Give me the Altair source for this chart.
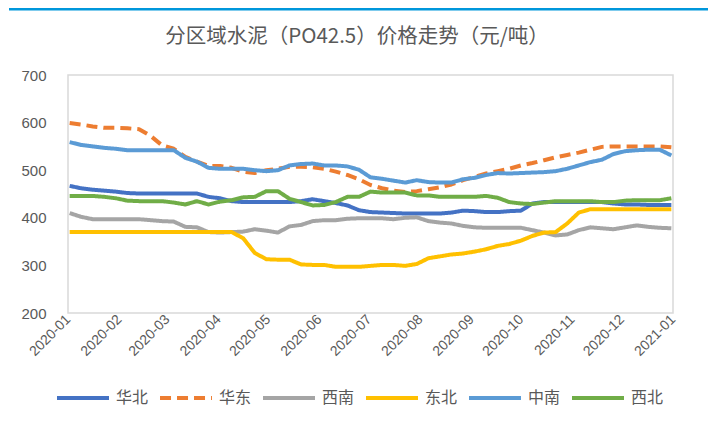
import altair as alt
import pandas as pd

series = ["华北", "华东", "西南", "东北", "中南", "西北"]
colors = ["#4472C4", "#ED7D31", "#A5A5A5", "#FFC000", "#5B9BD5", "#70AD47"]
title_text = "分区域水泥（PO42.5）价格走势（元/吨）"

dates = pd.date_range("2020-01-02", periods=53, freq="7D").strftime("%Y-%m-%dT00:00:00").tolist()

huabei = [467, 462, 459, 457, 455, 452, 451, 451, 451, 451, 451, 451, 444, 441, 435, 433,
          433, 433, 433, 433, 435, 439, 435, 431, 426, 416, 412, 411, 410, 409, 409, 409,
          409, 411, 415, 414, 412, 412, 414, 415, 430, 433, 433, 433, 433, 433, 433, 430,
          428, 428, 427, 427, 427]
huadong = [599, 596, 592, 589, 589, 588, 586, 572, 552, 545, 528, 518, 509, 509, 505, 497,
           494, 500, 503, 507, 507, 506, 503, 497, 490, 481, 469, 462, 457, 454, 456, 460,
           464, 470, 479, 486, 493, 498, 503, 510, 515, 521, 527, 532, 537, 543, 549, 550,
           550, 550, 550, 550, 548]
xinan = [410, 402, 397, 397, 397, 397, 397, 395, 393, 392, 381, 380, 370, 369, 370, 371,
         376, 373, 369, 382, 385, 393, 395, 395, 398, 399, 399, 399, 397, 400, 401, 393,
         390, 388, 383, 380, 379, 379, 379, 379, 374, 369, 363, 365, 374, 380, 378, 376,
         380, 384, 381, 379, 378]
dongbei = [370, 370, 370, 370, 370, 370, 370, 370, 370, 370, 370, 370, 370, 370, 370, 357,
           326, 313, 312, 312, 302, 301, 301, 297, 297, 297, 299, 301, 301, 299, 303, 315,
           319, 323, 325, 329, 334, 341, 345, 352, 362, 369, 370, 388, 411, 418, 418, 418,
           418, 418, 418, 418, 418]
zhongnan = [559, 553, 550, 547, 545, 542, 542, 542, 542, 542, 526, 518, 505, 503, 503, 503,
            500, 498, 500, 510, 513, 514, 510, 510, 508, 501, 485, 482, 478, 474, 479, 475,
            474, 474, 481, 484, 490, 494, 493, 494, 495, 496, 498, 503, 510, 517, 522, 534,
            540, 542, 543, 543, 531]
xibei = [446, 446, 446, 444, 441, 436, 435, 435, 435, 432, 428, 435, 428, 434, 437, 443,
         444, 456, 456, 440, 433, 426, 427, 433, 444, 444, 455, 453, 453, 453, 447, 447,
         444, 444, 444, 444, 446, 442, 433, 430, 429, 432, 435, 435, 435, 435, 433, 433,
         436, 437, 437, 437, 441]

values = [huabei, huadong, xinan, dongbei, zhongnan, xibei]
rows = []
for name, vals in zip(series, values):
    for d, v in zip(dates, vals):
        rows.append({"date": d, "price": v, "region": name})
df = pd.DataFrame(rows)

grey = "#595959"
num_font = "Liberation Sans"
cjk_font = "Noto Sans CJK SC"

legend_cfg = dict(title=None, orient="none", direction="horizontal",
                  legendX=-13, legendY=295,
                  symbolType="stroke", symbolSize=2700,
                  symbolStrokeWidth=4, labelFont=cjk_font,
                  labelFontSize=16, labelColor=grey, labelOffset=5,
                  columnPadding=3, padding=0)

lines = alt.Chart(df).mark_line(strokeWidth=4, strokeCap="butt", strokeJoin="round").encode(
    x=alt.X("date:T",
            scale=alt.Scale(domain=[alt.DateTime(year=2020, month=1, date=1),
                                    alt.DateTime(year=2021, month=1, date=1)]),
            axis=alt.Axis(title=None, format="%Y-%m", tickCount={"interval": "month", "step": 1},
                          labelAngle=315, labelAlign="right", labelBaseline="middle",
                          labelFont=num_font, labelFontSize=14, labelColor=grey,
                          labelPadding=4, ticks=False, domain=False, grid=False,
                          labelOverlap=False, labelBound=False, labelFlush=False)),
    y=alt.Y("price:Q",
            scale=alt.Scale(domain=[200, 700], nice=False, zero=False),
            axis=alt.Axis(title=None, values=[200, 300, 400, 500, 600, 700],
                          labelFont=num_font, labelFontSize=15, labelColor=grey,
                          labelPadding=22, ticks=False, domain=False, grid=False)),
    color=alt.Color("region:N", sort=series,
                    scale=alt.Scale(domain=series, range=colors),
                    legend=alt.Legend(**legend_cfg)),
    strokeDash=alt.StrokeDash("region:N", sort=series,
                              scale=alt.Scale(domain=series,
                                              range=[[1, 0], [11, 6], [1, 0], [1, 0], [1, 0], [1, 0]]),
                              legend=alt.Legend(**legend_cfg)),
)

one = pd.DataFrame({"t": [title_text]})

topline = alt.Chart(one).mark_rule(color="#0097DB", strokeWidth=3).encode(
    x=alt.value(-59), x2=alt.value(640), y=alt.value(-66)
)

title = alt.Chart(one).mark_text(font=cjk_font, fontSize=20.5, color=grey, align="center",
                                 baseline="middle").encode(
    text="t:N", x=alt.value(289), y=alt.value(-38)
)

chart = alt.layer(topline, title, lines).properties(
    width=605, height=238,
    autosize=alt.AutoSizeParams(type="none"),
    padding={"left": 60, "top": 67, "right": 37, "bottom": 107},
    background="white",
).configure_view(stroke="#D9D9D9", strokeWidth=1.5)

chart.save("out.html", embed_options={"renderer": "svg", "actions": False})
